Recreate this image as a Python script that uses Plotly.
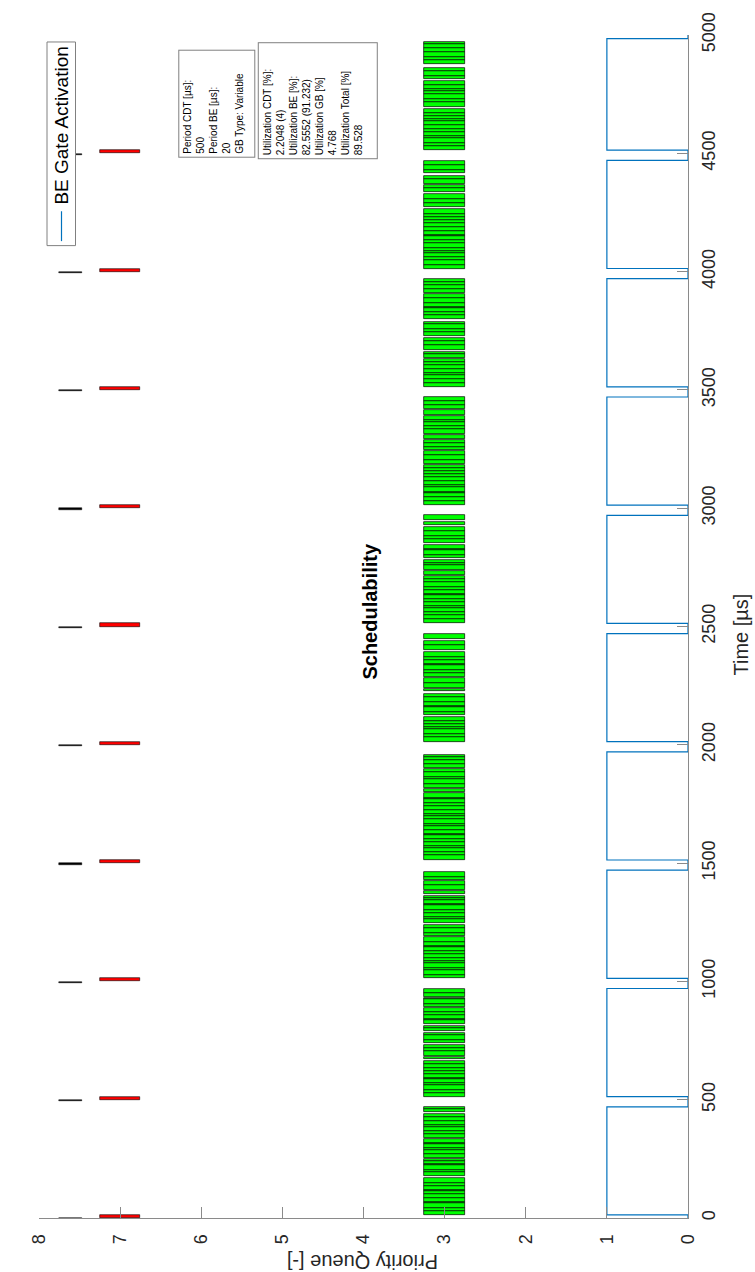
import plotly.graph_objects as go

# ---------------- data ----------------
prio_tick_vals = [0, 1, 2, 3, 4, 5, 6, 7, 8]
time_tick_vals = [0, 500, 1000, 1500, 2000, 2500, 3000, 3500, 4000, 4500, 5000]

# CDT frames (priority 7)
cdt_queue = 7
cdt_start = [0, 500, 1000, 1500, 2000, 2500, 3000, 3500, 4000, 4500]
cdt_len = [13, 13, 13, 13, 13, 13, 13, 13, 13, 13]

# CDT release markers (black, above priority 7)
release_queue = 7.61
release_start = [-6, 494, 994, 1494, 1994, 2494, 2994, 3494, 3994, 4494]
release_len = [5, 5, 5, 5, 5, 5, 5, 5, 5, 5]

# BE gate (1 = open, 0 = closed)
gate_open = [13, 513, 1013, 1513, 2013, 2513, 3013, 3513, 4013, 4513]
gate_close = [470, 970, 1470, 1970, 2470, 2970, 3470, 3970, 4470, 4985]

# BE frames (priority 3): bursts of back-to-back frames, (burst start, frame durations)
be_queue = 3
be_p0 = [(13, [18, 12, 20, 6, 15, 19, 12, 4, 17, 14, 21]),
         (177, [16, 11, 19, 5, 13, 9]),
         (255, [14, 20, 8, 17, 3, 15]),
         (338, [19, 12, 16, 6, 20, 14, 16]),
         (448, [13, 7])]
be_p1 = [(513, [17, 12, 20, 9, 16, 4, 18, 14, 11, 19, 12]),
         (672, [8]),
         (686, [20, 13, 12]),
         (738, [16, 18, 11]),
         (789, [14, 9]),
         (818, [19, 6, 15, 12, 16]),
         (891, [13, 20, 4]),
         (934, [18, 18])]
be_p2 = [(1013, [15, 19, 11, 20, 7, 14, 18, 12, 16, 5, 17, 19]),
         (1192, [12, 20, 14]),
         (1246, [18, 9, 16, 13, 20, 4, 17, 10, 10]),
         (1371, [12]),
         (1387, [19, 17]),
         (1428, [14, 21])]
be_p3 = [(1513, [20, 13, 17, 8, 19, 12, 15, 4, 18, 16, 11, 20, 14, 6, 17, 19, 13, 18, 4, 20]),
         (1801, [13]),
         (1819, [16, 20, 11, 18, 14]),
         (1902, [15, 19, 12, 7])]
be_p4 = [(2013, [18, 14, 20, 9, 16, 12, 17]),
         (2126, [13, 19, 6, 17, 20, 15]),
         (2226, [10]),
         (2241, [21, 19]),
         (2288, [16, 12, 20, 5, 18, 14, 21]),
         (2402, [19, 17]),
         (2449, [21])]
be_p5 = [(2513, [17, 20, 12, 15, 8, 19, 13, 16, 4, 18, 14, 20, 11, 13]),
         (2718, [16]),
         (2738, [20, 11, 12]),
         (2789, [14, 19, 6, 17]),
         (2853, [18, 12, 20, 16]),
         (2927, [16]),
         (2952, [18])]
be_p6 = [(3013, [19, 14, 17, 5, 20, 12, 16, 18, 9, 15, 13, 13]),
         (3188, [17, 20, 15]),
         (3245, [14, 18, 11]),
         (3293, [16]),
         (3314, [20, 13, 18, 6, 18]),
         (3394, [20]),
         (3418, [17, 19, 16])]
be_p7 = [(3513, [18, 13, 20, 7, 16, 19, 10, 14]),
         (3635, [15, 12]),
         (3670, [20, 16, 12]),
         (3726, [17, 14, 20, 8]),
         (3798, [19, 12, 18, 5, 16, 20, 17]),
         (3911, [14, 20, 11, 14])]
be_p8 = [(4013, [16, 20, 13, 18, 6, 15, 19, 12, 17, 4, 20, 14, 18, 11, 16, 13, 20]),
         (4273, [19, 15, 22]),
         (4337, [16, 12]),
         (4370, [20, 16]),
         (4418, [12, 19, 17])]
be_p9 = [(4513, [17, 14, 20, 9, 18, 12, 16, 19, 5, 15, 13, 18]),
         (4697, [19, 13, 20, 16, 6, 18, 17]),
         (4813, [14, 20, 14]),
         (4878, [18, 12, 20, 17, 15, 10])]

be_periods = [be_p0, be_p1, be_p2, be_p3, be_p4, be_p5, be_p6, be_p7, be_p8, be_p9]

legend_label = "BE Gate Activation"
info_box_1 = ["Period CDT [µs]:", "500", "Period BE [µs]:", "20", "GB Type: Variable"]
info_box_2 = ["Utilization CDT [%]:", "2.2048 (4)", "Utilization BE [%]:", "82.5552 (91.232)",
              "Utilization GB [%]", "4.768", "Utilization Total [%]", "89.528"]

# ---------------- build ----------------
be_start, be_len = [], []
for period in be_periods:
    for start, frames in period:
        t = start
        for d in frames:
            be_start.append(t)
            be_len.append(d)
            t += d

gate_x, gate_t = [0], [0]
for o, c in zip(gate_open, gate_close):
    gate_x += [0, 1, 1, 0]
    gate_t += [o, o, c, c]
gate_x.append(0)
gate_t.append(5000)

FONT = "Liberation Sans, Arial, Helvetica, sans-serif"
TXT = "#262626"
AX = "#8a8a8a"

fig = go.Figure()
fig.add_bar(x=[be_queue] * len(be_len), y=be_len, base=be_start, width=0.5,
            marker=dict(color="#00ff00", line=dict(color="black", width=0.7)),
            showlegend=False)
fig.add_bar(x=[cdt_queue] * len(cdt_len), y=cdt_len, base=cdt_start, width=0.5,
            marker=dict(color="#ff0000", line=dict(color="black", width=0.6)),
            showlegend=False)
fig.add_bar(x=[release_queue] * len(release_len), y=release_len, base=release_start, width=0.28,
            marker=dict(color="black", line=dict(color="black", width=0.5)),
            showlegend=False)
fig.add_scatter(x=gate_x, y=gate_t, mode="lines", name=legend_label,
                line=dict(color="#0072BD", width=1.2), showlegend=False)

# plot area in pixels
L, R, T, B = 39, 688, 30, 1218


def fx(px):
    return (px - L) / (R - L)


def fy(py):
    return (B - py) / (B - T)


fig.update_layout(
    width=755, height=1272,
    margin=dict(l=L, r=755 - R, t=T, b=1272 - B, pad=0),
    plot_bgcolor="white", paper_bgcolor="white",
    barmode="overlay", bargap=0, showlegend=False,
    font=dict(family=FONT, color=TXT),
    xaxis=dict(range=[8, 0], tickvals=prio_tick_vals, ticks="inside", ticklen=11,
               tickcolor=AX, showline=True, linecolor=AX, linewidth=1,
               showgrid=False, zeroline=False, tickangle=-90,
               tickfont=dict(size=18, color=TXT, family=FONT), ticklabelstandoff=8),
    yaxis=dict(range=[0, 5000], tickvals=time_tick_vals, side="right", ticks="inside",
               ticklen=11, tickcolor=AX, showline=True, linecolor=AX, linewidth=1,
               showgrid=False, zeroline=False, tickangle=-90,
               tickfont=dict(size=18, color=TXT, family=FONT), ticklabelstandoff=4),
)

annotations = [
    dict(text="<b>Schedulability</b>", x=fx(370), y=fy(609), textangle=-90,
         font=dict(size=20, color="black", family=FONT)),
    dict(text="Time [µs]", x=fx(741), y=fy(632), textangle=-90,
         font=dict(size=20, color=TXT, family=FONT)),
    dict(text="Priority Queue [-]", x=fx(363), y=fy(1262), textangle=180,
         font=dict(size=20, color=TXT, family=FONT)),
    dict(text=legend_label, x=fx(62), y=fy(121), textangle=-90,
         font=dict(size=19, color="black", family=FONT)),
    dict(text="<br>".join(info_box_1), x=fx(217), y=fy(99), textangle=-90,
         width=100, height=69, align="left", valign="top",
         bordercolor="#808080", borderwidth=1, borderpad=3, bgcolor="white",
         font=dict(size=10, color="black", family=FONT)),
    dict(text="<br>".join(info_box_2), x=fx(318), y=fy(96.5), textangle=-90,
         width=109, height=112, align="left", valign="top",
         bordercolor="#808080", borderwidth=1, borderpad=3, bgcolor="white",
         font=dict(size=10, color="black", family=FONT)),
]
for a in annotations:
    a.update(xref="paper", yref="paper", showarrow=False, xanchor="center", yanchor="middle")
fig.update_layout(annotations=annotations)

fig.add_shape(type="rect", xref="paper", yref="paper",
              x0=fx(47), x1=fx(75.5), y0=fy(241.5), y1=fy(37),
              fillcolor="white", line=dict(color="#808080", width=1), layer="above")
fig.add_shape(type="line", xref="paper", yref="paper",
              x0=fx(61.5), x1=fx(61.5), y0=fy(237), y1=fy(207),
              line=dict(color="#0072BD", width=1.2), layer="above")

fig.write_html("out.html")
